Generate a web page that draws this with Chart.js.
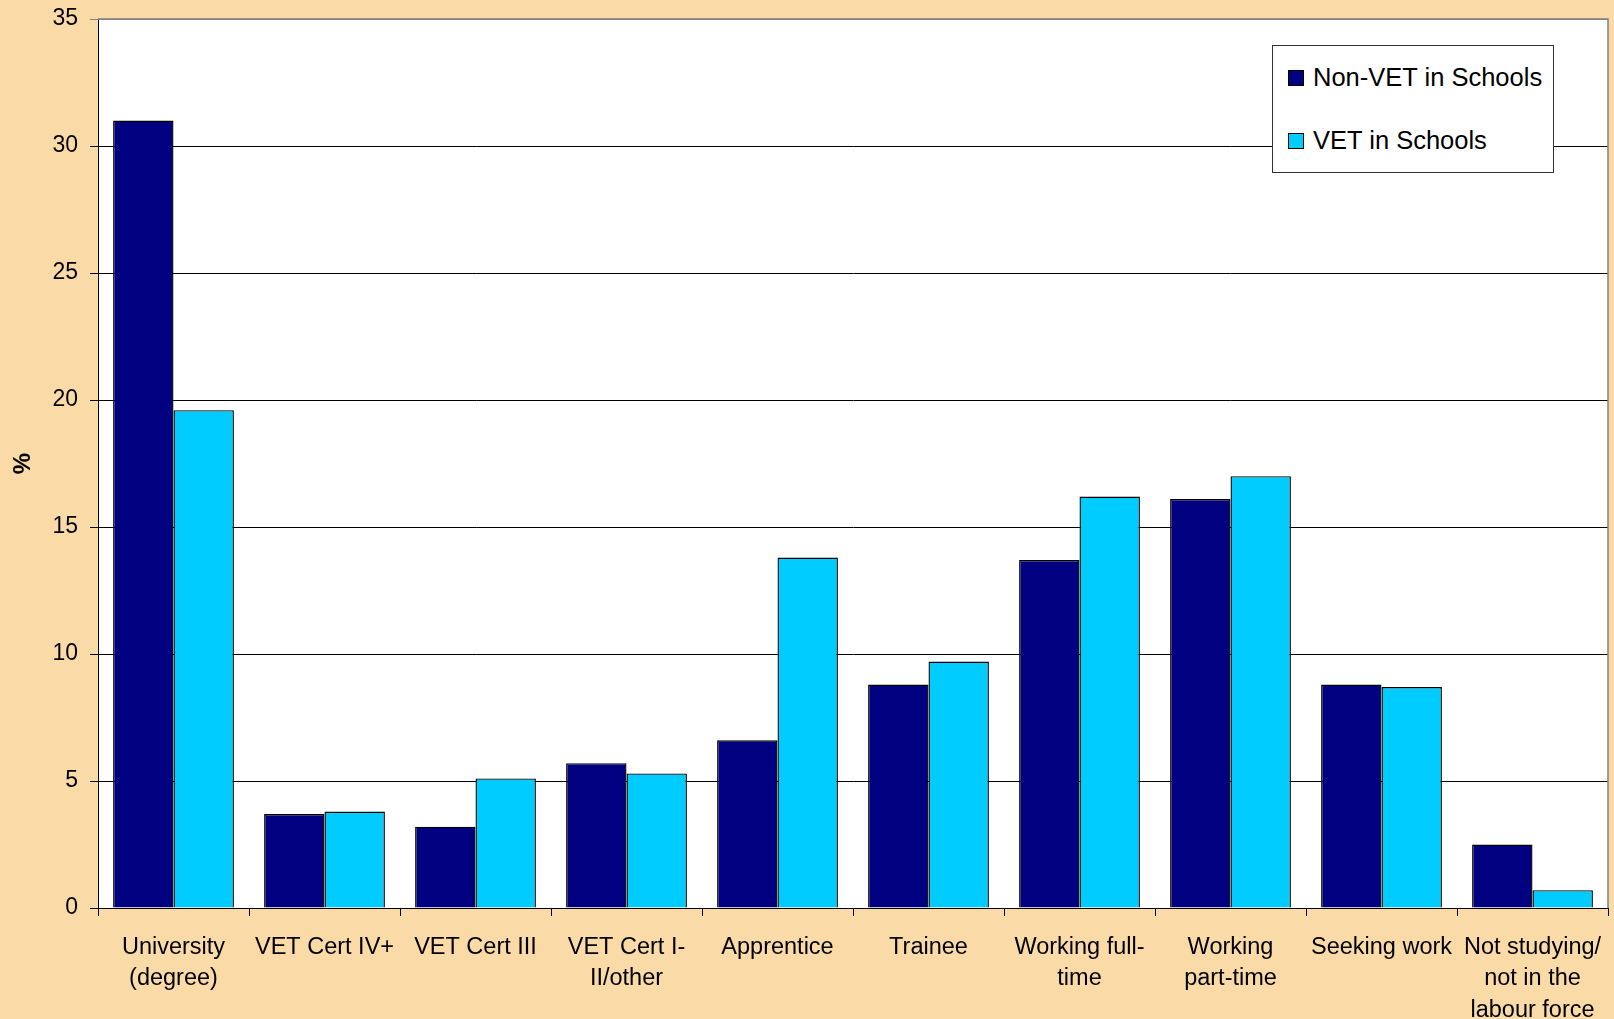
<!DOCTYPE html>
<html>
<head>
<meta charset="utf-8">
<script src="https://cdn.jsdelivr.net/npm/chart.js@4.4.1/dist/chart.umd.min.js"></script>
<style>
  html,body{margin:0;padding:0;background:#fadba8;}
  #wrap{position:relative;width:1614px;height:1019px;background:#fadba8;}
  #legend{position:absolute;left:1272px;top:45px;width:282px;height:128px;background:#fff;border:1px solid #333;
    font-family:"Liberation Sans",Arial,sans-serif;font-size:25.5px;color:#000;box-sizing:border-box;}
  .item{position:absolute;left:15px;display:flex;align-items:center;white-space:nowrap;}
  .sw{width:14px;height:14px;border:1px solid #000;margin-right:9px;}
</style>
</head>
<body>
<div id="wrap">
  <canvas id="chart" width="1614" height="1019"></canvas>
  <div id="legend"></div>
</div>
<script>
const categories=[
  ['University','(degree)'],
  'VET Cert IV+',
  'VET Cert III',
  ['VET Cert I-','II/other'],
  'Apprentice',
  'Trainee',
  ['Working full-','time'],
  ['Working','part-time'],
  'Seeking work',
  ['Not studying/','not in the','labour force']
];
const nonVet=[31.0,3.7,3.2,5.7,6.6,8.8,13.7,16.1,8.8,2.5];
const vet=[19.6,3.8,5.1,5.3,13.8,9.7,16.2,17.0,8.7,0.7];
const seriesNames=['Non-VET in Schools','VET in Schools'];
const seriesColors=['#000080','#00ccff'];
const yTicks=[0,5,10,15,20,25,30,35];

const FONT='"Liberation Sans", Arial, sans-serif';

// white plot area + grey frame on top/right
const frame={
  id:'frame',
  beforeDraw(c){
    const {ctx,chartArea:a}=c;
    ctx.save(); ctx.fillStyle='#fff'; ctx.fillRect(a.left,a.top,a.right-a.left,a.bottom-a.top); ctx.restore();
  },
  afterDraw(c){
    const {ctx,chartArea:a}=c;
    ctx.save(); ctx.strokeStyle='#808080'; ctx.lineWidth=1.5;
    ctx.beginPath(); ctx.moveTo(a.left,a.top); ctx.lineTo(a.right,a.top); ctx.lineTo(a.right,a.bottom); ctx.stroke();
    ctx.restore();
  }
};

const chart=new Chart(document.getElementById('chart'),{
  type:'bar',
  data:{labels:categories,datasets:[
    {label:seriesNames[0],data:nonVet,backgroundColor:seriesColors[0],borderColor:'#000',borderWidth:1.4,categoryPercentage:0.8,barPercentage:1},
    {label:seriesNames[1],data:vet,backgroundColor:seriesColors[1],borderColor:'#000',borderWidth:1.4,categoryPercentage:0.8,barPercentage:1}
  ]},
  options:{
    responsive:false,animation:false,
    layout:{padding:{top:19,right:6,left:0,bottom:0}},
    plugins:{legend:{display:false},tooltip:{enabled:false}},
    scales:{
      x:{
        grid:{drawOnChartArea:false,drawTicks:true,tickLength:8,color:'#000',offset:true},
        border:{color:'#000',width:1},
        ticks:{autoSkip:false,maxRotation:0,minRotation:0,padding:16,color:'#000',font:{family:FONT,size:23.5,lineHeight:1.33}},
        afterFit(s){ s.height=111; s.paddingLeft=0; s.paddingRight=0; }
      },
      y:{
        min:0,max:35,
        afterBuildTicks(s){ s.ticks=yTicks.map(v=>({value:v})); },
        grid:{color:c=>c.tick&&c.tick.value===35?'#808080':'#000',lineWidth:1,tickLength:8},
        border:{color:'#000',width:1},
        ticks:{padding:12,color:'#000',font:{family:FONT,size:23}},
        title:{display:true,text:'%',color:'#000',font:{family:FONT,size:24,weight:'bold',lineHeight:1},padding:{top:11,bottom:0}},
        afterFit(s){ s.width=98; s.paddingTop=0; s.paddingBottom=0; }
      }
    }
  },
  plugins:[frame]
});

// legend built from the datasets
const lg=document.getElementById('legend');
chart.data.datasets.forEach((d,i)=>{
  const it=document.createElement('div'); it.className='item';
  it.style.top=(i===0?17:80)+'px';
  it.innerHTML=`<span class="sw" style="background:${d.backgroundColor}"></span><span>${d.label}</span>`;
  lg.appendChild(it);
});
</script>
</body>
</html>
